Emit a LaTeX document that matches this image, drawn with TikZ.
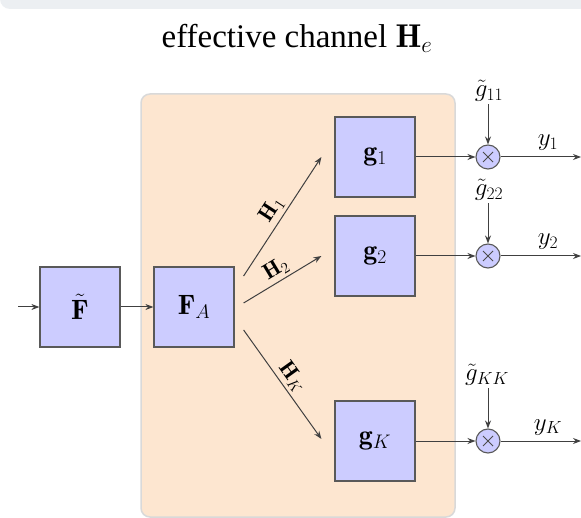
\RequirePackage{fix-cm}
\documentclass[tikz,border=0pt]{standalone}
\usepackage{fontspec}
\newfontfamily\titlefont{Liberation Serif}
\usetikzlibrary{arrows.meta}
\definecolor{blkfill}{RGB}{204,204,255}
\definecolor{peach}{RGB}{253,230,208}
\definecolor{topband}{RGB}{236,239,242}
\begin{document}
\begin{tikzpicture}[x=1pt,y=-1pt,
  blk/.style={draw=black!65, line width=1.2pt, fill=blkfill, minimum size=80pt, inner sep=0pt, font=\fontsize{28}{31}\selectfont},
  mult/.style={draw=black!65, line width=1.1pt, fill=blkfill, circle, minimum size=24pt, inner sep=0pt,
    path picture={\draw[line width=1pt,black!70]
      ([shift={(-5pt,-5pt)}]path picture bounding box.center) -- ([shift={(5pt,5pt)}]path picture bounding box.center)
      ([shift={(-5pt,5pt)}]path picture bounding box.center) -- ([shift={(5pt,-5pt)}]path picture bounding box.center);}},
  conn/.style={draw=black!75, line width=1pt, -{Stealth[length=8pt,width=6pt]}},
  lbl/.style={font=\fontsize{25}{28}\selectfont, inner sep=2pt, anchor=base},
  hl/.style={font=\fontsize{22}{24}\selectfont, sloped, above, inner sep=3pt, pos=0.5}]
\useasboundingbox (0,0) rectangle (581,518);
\fill[white] (0,0) rectangle (581,518);
\fill[topband, rounded corners=10pt] (0,-30) rectangle (620,9);
\draw[draw=black!15, line width=1.5pt, fill=peach, rounded corners=9pt] (141,94) rectangle (455,517);
\node[font=\fontsize{33}{36}\selectfont, inner sep=0pt, anchor=base] (title) at (297,48) {\titlefont effective channel $\mathbf{H}_e$};
\node[blk] (F) at (80,307) {$\tilde{\mathbf{F}}$};
\node[blk] (FA) at (194,307) {$\mathbf{F}_A$};
\node[blk] (g1) at (375,157) {$\mathbf{g}_1$};
\node[blk] (g2) at (375,256) {$\mathbf{g}_2$};
\node[blk] (gK) at (375,441) {$\mathbf{g}_K$};
\node[mult] (m1) at (488,157) {};
\node[mult] (m2) at (488,256) {};
\node[mult] (mK) at (488,441) {};
\coordinate (in) at (18,307);
\coordinate (o1) at (581,157);
\coordinate (o2) at (581,256);
\coordinate (oK) at (581,441);
\node[lbl] (t1) at (489,97) {$\tilde{g}_{11}$};
\node[lbl] (t2) at (489,196) {$\tilde{g}_{22}$};
\node[lbl] (tK) at (487,381) {$\tilde{g}_{KK}$};
\draw[conn] (in) -- (F);
\draw[conn] (F) -- (FA);
\draw[conn] ([shift={(9pt,31pt)}]FA.east) -- node[hl] {$\mathbf{H}_1$} ([xshift=-13pt]g1.west);
\draw[conn] ([shift={(9pt,4pt)}]FA.east) -- node[hl] {$\mathbf{H}_2$} ([xshift=-13pt]g2.west);
\draw[conn] ([shift={(9pt,-23pt)}]FA.east) -- node[hl] {$\mathbf{H}_K$} ([shift={(-13pt,2pt)}]gK.west);
\draw[conn] (g1) -- (m1);
\draw[conn] (g2) -- (m2);
\draw[conn] (gK) -- (mK);
\draw[conn] (t1.south -| m1) -- (m1);
\draw[conn] (t2.south -| m2) -- (m2);
\draw[conn] (tK.south -| mK) -- (mK);
\draw[conn] (m1) -- node[lbl, anchor=base, pos=0.59, yshift=11pt] {$y_1$} (o1);
\draw[conn] (m2) -- node[lbl, anchor=base, pos=0.59, yshift=11pt] {$y_2$} (o2);
\draw[conn] (mK) -- node[lbl, anchor=base, pos=0.59, yshift=11pt] {$y_K$} (oK);
\end{tikzpicture}
\end{document}
